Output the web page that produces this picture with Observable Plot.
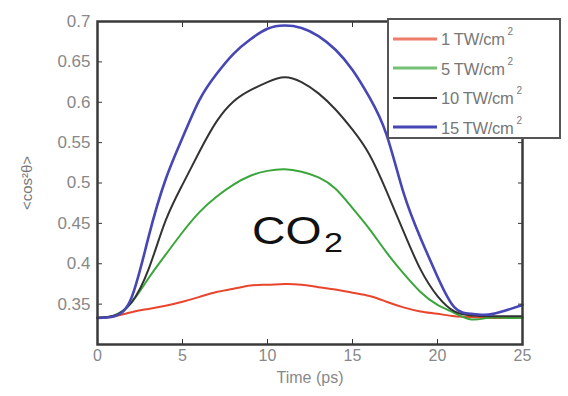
<!DOCTYPE html>
<html>
<head>
<meta charset="utf-8">
<script src="https://cdn.jsdelivr.net/npm/d3@7"></script>
<script src="https://cdn.jsdelivr.net/npm/@observablehq/plot@0.6"></script>
<style>
  html, body { margin: 0; padding: 0; background: #fff; }
  #wrap { position: relative; width: 568px; height: 396px; font-family: "Liberation Sans", Arial, sans-serif; }
  #legend { position: absolute; left: 387px; top: 18px; width: 174px; height: 121px; box-sizing: border-box;
            border: 2px solid #555; background: #fff; padding-top: 4px; }
  .row { display: flex; align-items: center; height: 29.5px; color: #777; font-size: 16.5px; letter-spacing: -0.3px; white-space: nowrap; }
  .row svg { margin-left: 4px; margin-right: 4px; }
  sup { font-size: 10px; position: relative; top: -3px; margin-left: 3px; }
  #co2 { position: absolute; left: 252px; top: 210px; font-size: 38px; color: #111; transform: scaleX(1.22); transform-origin: left top; white-space: nowrap; }
  #co2 sub { font-size: 28px; position: relative; top: 8px; vertical-align: baseline; margin-left: 2px; }
</style>
</head>
<body>
<div id="wrap"></div>
<script>
const time = [0,1,2,3,4,5,6,7,8,9,10,11,12,13,14,15,16,17,18,19,20,21,22,23,24,25];
const seriesNames = ["1 TW/cm²", "5 TW/cm²", "10 TW/cm²", "15 TW/cm²"];
const seriesColors = ["#e8452c", "#3aa63a", "#333333", "#4646b4"];
const s1  = [0.333,0.335,0.340,0.344,0.348,0.353,0.359,0.365,0.369,0.373,0.374,0.375,0.374,0.371,0.368,0.364,0.360,0.353,0.346,0.341,0.338,0.335,0.334,0.333,0.333,0.333];
const s5  = [0.333,0.336,0.352,0.382,0.411,0.439,0.464,0.483,0.498,0.509,0.515,0.517,0.514,0.507,0.493,0.469,0.443,0.414,0.388,0.365,0.349,0.339,0.331,0.333,0.333,0.333];
const s10 = [0.333,0.336,0.352,0.393,0.453,0.498,0.539,0.576,0.601,0.615,0.625,0.631,0.625,0.611,0.591,0.566,0.535,0.490,0.440,0.393,0.360,0.341,0.336,0.335,0.335,0.335];
const s15 = [0.333,0.335,0.358,0.433,0.504,0.556,0.603,0.635,0.660,0.678,0.691,0.695,0.692,0.682,0.665,0.640,0.606,0.560,0.488,0.432,0.384,0.346,0.338,0.337,0.342,0.349];
const xTicks = [0,5,10,15,20,25];
const yTicks = [0.35,0.4,0.45,0.5,0.55,0.6,0.65,0.7];

const allSeries = [s1, s5, s10, s15];
const data = allSeries.flatMap((vals, i) => vals.map((v, j) => ({t: time[j], v, s: seriesNames[i]})));
const widths = [2, 2, 2, 2.6];

const chart = Plot.plot({
  width: 568, height: 396,
  marginLeft: 97, marginRight: 46, marginTop: 21, marginBottom: 52,
  style: {fontFamily: "Liberation Sans, Arial, sans-serif", fontSize: "17px", color: "#888", background: "#fff"},
  x: {domain: [0, 25]},
  y: {domain: [0.30, 0.70]},
  color: {domain: seriesNames, range: seriesColors},
  marks: [
    ...seriesNames.map((name, i) => Plot.line(data.filter(d => d.s === name), {x: "t", y: "v", stroke: seriesColors[i], strokeWidth: widths[i], curve: "natural"})),
    Plot.axisX({ticks: xTicks, tickSize: -5, tickPadding: 10, stroke: "#333", fill: "#888", label: "Time (ps)", labelAnchor: "center", labelArrow: "none", labelOffset: 38, fontSize: 16}),
    Plot.axisX({anchor: "top", ticks: xTicks, tickSize: -5, tickFormat: () => "", stroke: "#333", label: null}),
    Plot.axisY({ticks: yTicks, tickSize: -5, tickPadding: 12, stroke: "#333", fill: "#888", tickFormat: d => String(d), label: "<cos²θ>", labelAnchor: "center", labelArrow: "none", labelOffset: 76, fontSize: 17}),
    Plot.axisY({anchor: "right", ticks: yTicks, tickSize: -5, tickFormat: () => "", stroke: "#333", label: null}),
    Plot.frame({stroke: "#3a3a3a", strokeWidth: 2.5})
  ]
});

const wrap = document.getElementById("wrap");
wrap.appendChild(chart);
chart.querySelectorAll("[aria-label='y-axis label'] text").forEach(t => { t.setAttribute("font-size", "15"); t.setAttribute("fill", "#777"); });
chart.querySelectorAll("[aria-label='x-axis label'] text").forEach(t => { t.setAttribute("font-size", "16"); t.setAttribute("fill", "#888"); });

const legend = document.createElement("div");
legend.id = "legend";
seriesNames.forEach((name, i) => {
  const row = document.createElement("div");
  row.className = "row";
  const [num] = name.split(" ");
  row.innerHTML = `<svg width="44" height="6"><line x1="0" x2="44" y1="3" y2="3" stroke="${seriesColors[i]}" stroke-width="${i === 2 ? 2 : 3}" opacity="${i < 2 ? 0.7 : 1}"/></svg><span>${num} TW/cm<sup>2</sup></span>`;
  legend.appendChild(row);
});
wrap.appendChild(legend);

const co2 = document.createElement("div");
co2.id = "co2";
co2.innerHTML = "CO<sub>2</sub>";
wrap.appendChild(co2);
</script>
</body>
</html>
